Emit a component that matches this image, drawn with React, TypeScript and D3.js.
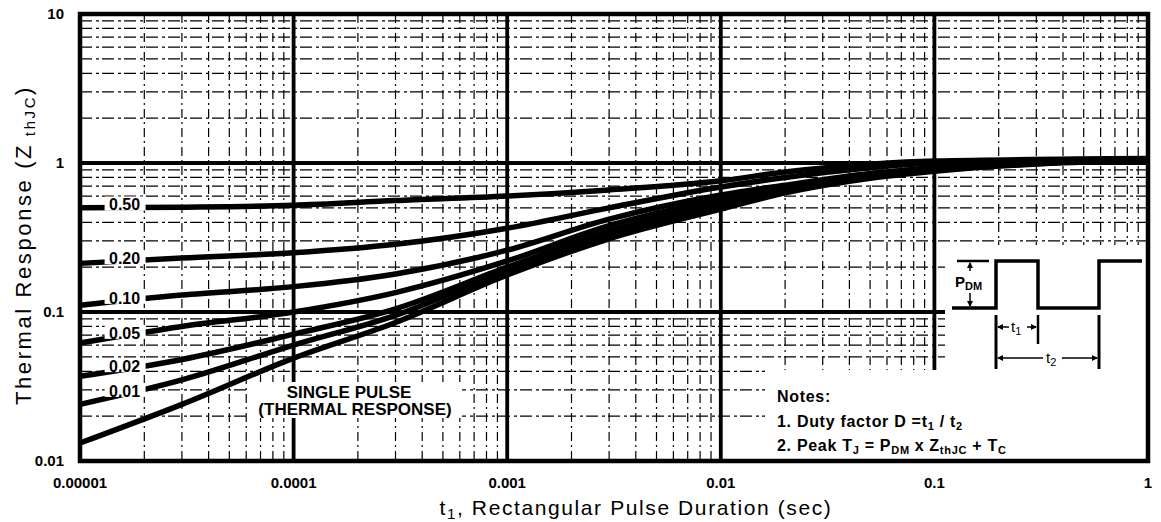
import * as d3 from "d3";

// pulse duration t1 (sec) where the curves were read
const pulseDurations = [1e-5, 3e-5, 1e-4, 3e-4, 1e-3, 3e-3, 1e-2, 2e-2, 5e-2, 1e-1, 1];

// thermal response Z(thJC) per duty factor
const duty050 = [0.5, 0.505, 0.52, 0.56, 0.6, 0.66, 0.76, 0.87, 0.98, 1.03, 1.07];
const duty020 = [0.212, 0.23, 0.25, 0.285, 0.365, 0.5, 0.69, 0.8, 0.93, 1.0, 1.06];
const duty010 = [0.111, 0.13, 0.148, 0.18, 0.26, 0.42, 0.61, 0.71, 0.85, 0.93, 1.05];
const duty005 = [0.062, 0.08, 0.1, 0.135, 0.22, 0.38, 0.57, 0.68, 0.83, 0.91, 1.05];
const duty002 = [0.037, 0.048, 0.071, 0.105, 0.2, 0.35, 0.54, 0.66, 0.81, 0.9, 1.05];
const duty001 = [0.024, 0.035, 0.06, 0.095, 0.19, 0.33, 0.52, 0.65, 0.8, 0.89, 1.05];
const singlePulse = [0.0132, 0.024, 0.049, 0.085, 0.177, 0.31, 0.49, 0.63, 0.79, 0.88, 1.05];

const dutyLabels = ["0.50", "0.20", "0.10", "0.05", "0.02", "0.01"];
const dutySeries = [duty050, duty020, duty010, duty005, duty002, duty001];

const xTicks = [1e-5, 1e-4, 1e-3, 1e-2, 1e-1, 1];
const xTickLabels = ["0.00001", "0.0001", "0.001", "0.01", "0.1", "1"];
const yTicks = [0.01, 0.1, 1, 10];
const yTickLabels = ["0.01", "0.1", "1", "10"];

const W = 1161;
const H = 522;
const FONT = "'Liberation Sans', Arial, Helvetica, sans-serif";

function minorValues(decades: number[]) {
  const out: number[] = [];
  decades.forEach((d) => {
    for (let k = 2; k <= 9; k++) out.push(d * k);
  });
  return out;
}

// log-log interpolation of a series at t
function valueAt(values: number[], t: number) {
  for (let i = 0; i < pulseDurations.length - 1; i++) {
    const a = pulseDurations[i];
    const b = pulseDurations[i + 1];
    if (t >= a && t <= b) {
      const f = (Math.log(t) - Math.log(a)) / (Math.log(b) - Math.log(a));
      return Math.exp(Math.log(values[i]) + f * (Math.log(values[i + 1]) - Math.log(values[i])));
    }
  }
  return values[values.length - 1];
}

export default function App() {
  const x = d3.scaleLog().domain([1e-5, 1]).range([80, 1148]);
  const y = d3.scaleLog().domain([0.01, 10]).range([461, 14]);
  const [x0, x1] = x.range();
  const [y0, y1] = y.range();

  const xMinor = minorValues([1e-5, 1e-4, 1e-3, 1e-2, 1e-1]);
  const yMinor = minorValues([0.01, 0.1, 1]);

  const line = d3
    .line<number>()
    .x((_, i) => x(pulseDurations[i]))
    .y((d) => y(d))
    .curve(d3.curveMonotoneX);

  const labelT = 1.6e-5;

  return (
    <svg
      width={W}
      height={H}
      style={{ position: "absolute", left: 0, top: 0, background: "#fff" }}
      fontFamily={FONT}
    >
      <defs>
        <mask id="gridMask">
          <rect x={0} y={0} width={W} height={H} fill="#fff" />
          {/* pulse sketch and notes sit on blank paper */}
          <rect x={945} y={245} width={220} height={230} fill="#000" />
          <rect x={765} y={370} width={400} height={100} fill="#000" />
        </mask>
      </defs>

      <rect x={0} y={0} width={W} height={H} fill="#fff" />

      {/* grid */}
      <g mask="url(#gridMask)" stroke="#000">
        {xMinor.map((v) => (
          <line key={"xm" + v} x1={x(v)} x2={x(v)} y1={y1} y2={y0} strokeWidth={1.2} strokeDasharray="9 4 2 4" />
        ))}
        {yMinor.map((v) => (
          <line key={"ym" + v} x1={x0} x2={x1} y1={y(v)} y2={y(v)} strokeWidth={1.2} strokeDasharray="12 4 3 3" />
        ))}
        {xTicks.slice(1, -1).map((v) => (
          <line key={"xM" + v} x1={x(v)} x2={x(v)} y1={y1} y2={y0} strokeWidth={3.8} />
        ))}
        {yTicks.slice(1, -1).map((v) => (
          <line key={"yM" + v} x1={x0} x2={x1} y1={y(v)} y2={y(v)} strokeWidth={3.8} />
        ))}
      </g>

      {/* response curves */}
      <g fill="none" stroke="#000" strokeWidth={5.5}>
        {dutySeries.map((s, i) => (
          <path key={dutyLabels[i]} d={line(s) || ""} />
        ))}
        <path d={line(singlePulse) || ""} />
      </g>

      {/* frame */}
      <rect x={x0} y={y1} width={x1 - x0} height={y0 - y1} fill="none" stroke="#000" strokeWidth={4.5} />

      {/* duty factor labels */}
      {dutySeries.map((s, i) => {
        const cy = y(valueAt(s, labelT)) - 3;
        const cx = x(labelT);
        return (
          <g key={"lab" + i}>
            <rect x={cx - 19} y={cy - 8} width={41} height={14} fill="#fff" />
            <text x={cx + 1} y={cy} dy="0.36em" textAnchor="middle" fontSize={16} fontWeight="bold">
              {dutyLabels[i]}
            </text>
          </g>
        );
      })}

      {/* single pulse label */}
      <rect x={250} y={382} width={212} height={36} fill="#fff" />
      <text x={349} y={398} textAnchor="middle" fontSize={17} fontWeight="bold">
        SINGLE PULSE
      </text>
      <text x={355} y={415} textAnchor="middle" fontSize={17} fontWeight="bold">
        (THERMAL RESPONSE)
      </text>

      {/* pulse sketch */}
      <g stroke="#000" fill="none">
        <path d="M952,308 H996 V261 H1038 V308 H1099 V261 H1142" strokeWidth={3.5} />
        <line x1={957} x2={989} y1={261} y2={261} strokeWidth={2.5} />
        <line x1={970} x2={970} y1={263} y2={271} strokeWidth={1.5} />
        <line x1={970} x2={970} y1={293} y2={306} strokeWidth={1.5} />
        <line x1={996} x2={996} y1={315} y2={369} strokeWidth={3} />
        <line x1={1038} x2={1038} y1={315} y2={344} strokeWidth={2.5} />
        <line x1={1099} x2={1099} y1={315} y2={369} strokeWidth={3} />
        <line x1={998} x2={1009} y1={327} y2={327} strokeWidth={1.5} />
        <line x1={1027} x2={1036} y1={327} y2={327} strokeWidth={1.5} />
        <line x1={998} x2={1043} y1={358} y2={358} strokeWidth={1.5} />
        <line x1={1062} x2={1097} y1={358} y2={358} strokeWidth={1.5} />
      </g>
      <g fill="#000">
        <path d="M970,262 l-3,6 h6 z" />
        <path d="M970,307 l-3,-6 h6 z" />
        <path d="M997,327 l6,-3 v6 z" />
        <path d="M1037,327 l-6,-3 v6 z" />
        <path d="M997,358 l6,-3 v6 z" />
        <path d="M1098,358 l-6,-3 v6 z" />
      </g>
      <text x={955} y={287} fontSize={15} fontWeight="bold">
        P<tspan fontSize={11} dy={3}>DM</tspan>
      </text>
      <text x={1011} y={332} fontSize={15}>
        t<tspan fontSize={11} dy={3}>1</tspan>
      </text>
      <text x={1046} y={363} fontSize={15}>
        t<tspan fontSize={11} dy={3}>2</tspan>
      </text>

      {/* notes */}
      <g fontSize={16} fontWeight="bold" letterSpacing={0.7}>
        <text x={777} y={402}>Notes:</text>
        <text x={777} y={427}>
          1. Duty factor D =t<tspan fontSize={11} dy={3}>1</tspan>
          <tspan dy={-3}> / t</tspan>
          <tspan fontSize={11} dy={3}>2</tspan>
        </text>
        <text x={777} y={451}>
          2. Peak T<tspan fontSize={11} dy={3}>J</tspan>
          <tspan dy={-3}> = P</tspan>
          <tspan fontSize={11} dy={3}>DM</tspan>
          <tspan dy={-3} dx={5}>x</tspan>
          <tspan dx={5}>Z</tspan>
          <tspan fontSize={11} dy={3}>thJC</tspan>
          <tspan dy={-3}> + T</tspan>
          <tspan fontSize={11} dy={3}>C</tspan>
        </text>
      </g>

      {/* axes labels */}
      <g fontSize={15} fontWeight="bold">
        {yTicks.map((v, i) => (
          <text key={"yt" + v} x={64} y={y(v)} dy="0.36em" textAnchor="end">
            {yTickLabels[i]}
          </text>
        ))}
        {xTicks.map((v, i) => (
          <text key={"xt" + v} x={x(v)} y={488} textAnchor="middle">
            {xTickLabels[i]}
          </text>
        ))}
      </g>

      <text x={636} y={515} textAnchor="middle" fontSize={21} letterSpacing={1.6}>
        t<tspan fontSize={15} dy={4}>1</tspan>
        <tspan dy={-4}>, Rectangular Pulse Duration (sec)</tspan>
      </text>

      <text transform="translate(31,245) rotate(-90)" textAnchor="middle" fontSize={22} letterSpacing={2.6}>
        Thermal Response (Z<tspan fontSize={15} dy={4}> thJC</tspan>
        <tspan dy={-4}>)</tspan>
      </text>
    </svg>
  );
}
